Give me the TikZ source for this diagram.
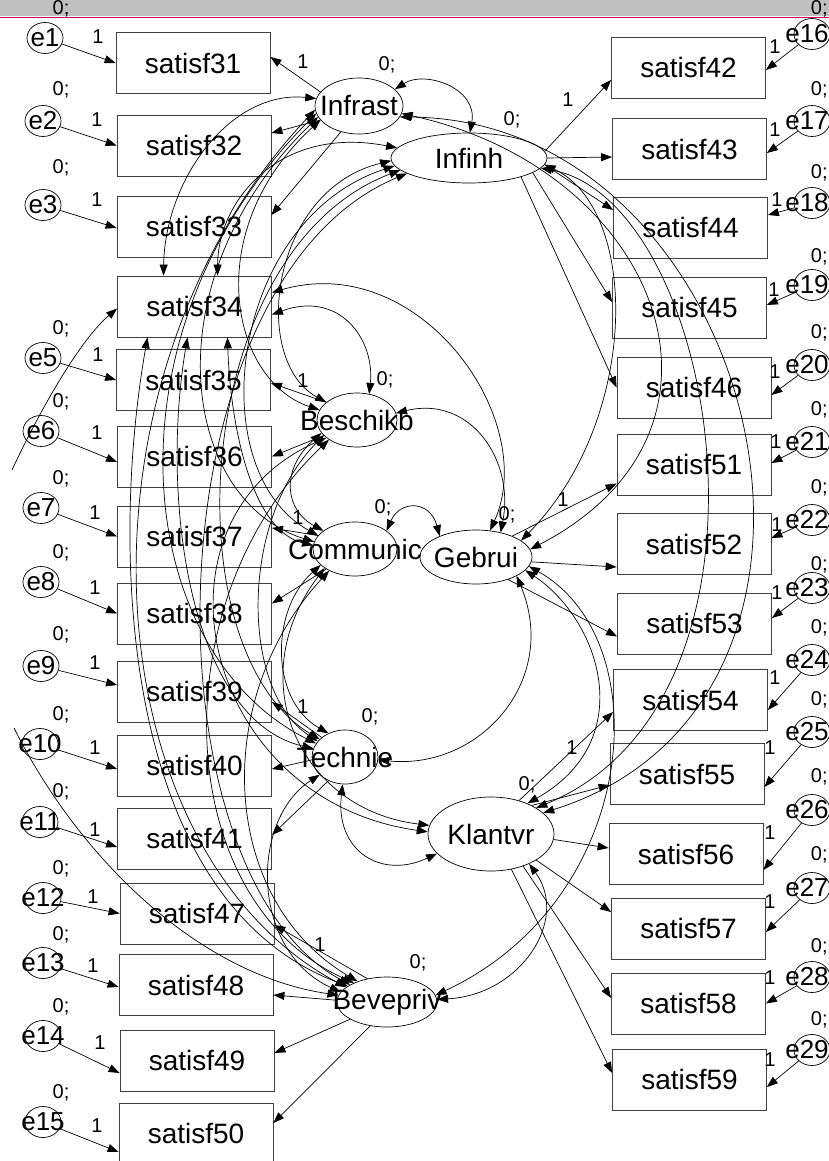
\documentclass[tikz,border=0pt]{standalone}
\usepackage{fontspec}
\setmainfont{Liberation Sans}
\usetikzlibrary{shapes.geometric,arrows.meta}
\newcommand\fbig{\fontsize{28}{30}\selectfont}
\newcommand\fsmall{\fontsize{20}{22}\selectfont}
\newcommand\ferr{\fontsize{26}{28}\selectfont}
\definecolor{bandline}{RGB}{200,0,100}
\definecolor{bandgrey}{RGB}{192,192,192}
\begin{document}
\begin{tikzpicture}[x=1pt,y=-1pt, line width=0.7pt,
  >={Triangle[length=11pt,width=8pt]},
  box/.style={draw=black!75, line width=0.8pt, minimum width=154pt, minimum height=61pt, inner sep=0pt, font=\fbig},
  lat/.style={ellipse, draw, line width=0.7pt, inner sep=0pt, label={[font=\fbig]center:#1}},
  err/.style={ellipse, draw, line width=0.7pt, minimum width=36pt, minimum height=31pt, inner sep=0pt, label={[font=\ferr]center:#1}},
  errR/.style={ellipse, draw, line width=0.7pt, minimum width=36pt, minimum height=31pt, inner sep=0pt, label={[font=\ferr,xshift=-5pt]center:#1}},
  lab/.style={font=\fsmall, inner sep=0pt},
  load/.style={->},
  cov/.style={<->}
]
\useasboundingbox (0,0) rectangle (829,1161);
\clip (0,0) rectangle (829,1161);
\fill[bandgrey] (0,0) rectangle (829,16);
\draw[bandline, line width=1.5pt] (0,17.5) -- (829,17.5);

% ---------- indicator boxes, left
\node[box] (s31) at (193,63) {satisf31};
\node[box] (s32) at (194,145.5) {satisf32};
\node[box] (s33) at (194,226.5) {satisf33};
\node[box] (s34) at (194.5,306.5) {satisf34};
\node[box] (s35) at (193.5,380) {satisf35};
\node[box] (s36) at (194.5,456.5) {satisf36};
\node[box] (s37) at (194.5,536.5) {satisf37};
\node[box] (s38) at (194.5,613.5) {satisf38};
\node[box] (s39) at (194.5,691.5) {satisf39};
\node[box] (s40) at (194.5,765.5) {satisf40};
\node[box] (s41) at (194.5,838.5) {satisf41};
\node[box] (s47) at (197,913.5) {satisf47};
\node[box] (s48) at (196,985) {satisf48};
\node[box] (s49) at (197,1060.5) {satisf49};
\node[box] (s50) at (196,1133.5) {satisf50};
% ---------- indicator boxes, right
\node[box] (s42) at (688.5,67.5) {satisf42};
\node[box] (s43) at (689.5,149) {satisf43};
\node[box] (s44) at (690.5,227.5) {satisf44};
\node[box] (s45) at (689.5,307.5) {satisf45};
\node[box] (s46) at (694,387.5) {satisf46};
\node[box] (s51) at (694,464.5) {satisf51};
\node[box] (s52) at (694,544) {satisf52};
\node[box] (s53) at (694.5,623.5) {satisf53};
\node[box] (s54) at (690.5,700) {satisf54};
\node[box] (s55) at (687,774) {satisf55};
\node[box] (s56) at (686,854) {satisf56};
\node[box] (s57) at (688.5,928.5) {satisf57};
\node[box] (s58) at (688.5,1003.5) {satisf58};
\node[box] (s59) at (689.5,1079.5) {satisf59};

% ---------- latent variables
\node[lat=Infrast, minimum width=88pt, minimum height=56pt] (IS) at (359,106) {};
\node[lat=Infinh, minimum width=156pt, minimum height=50pt] (IH) at (469,158) {};
\node[lat=Beschikb, minimum width=80pt, minimum height=54pt] (BE) at (357,420) {};
\node[lat=Communic, minimum width=84pt, minimum height=54pt] (CO) at (355,549) {};
\node[lat=Gebrui, minimum width=112pt, minimum height=54pt] (GE) at (476,557) {};
\node[lat=Technie, minimum width=66pt, minimum height=54pt] (TE) at (345,757) {};
\node[lat=Klantvr, minimum width=126pt, minimum height=74pt] (KL) at (491,834) {};
\node[lat=Bevepriv, minimum width=100pt, minimum height=50pt] (BV) at (387,1002) {};

% ---------- latent labels
\node[lab] (vIS) at (387,65) {0;};
\node[lab] (vIH) at (512,120) {0;};
\node[lab] (vBE) at (385,380) {0;};
\node[lab] (vCO) at (383,508) {0;};
\node[lab] (vGE) at (507,515) {0;};
\node[lab] (vTE) at (370,717) {0;};
\node[lab] (vKL) at (527,785) {0;};
\node[lab] (vBV) at (418,963) {0;};
\node[lab] (wIS) at (303,62) {1};
\node[lab] (wIH) at (568,100) {1};
\node[lab] (wBE) at (303,381) {1};
\node[lab] (wCO) at (298,518) {1};
\node[lab] (wGE) at (563,500) {1};
\node[lab] (wTE) at (303,707) {1};
\node[lab] (wKL) at (572,748) {1};
\node[lab] (wBV) at (320,945) {1};

% ---------- loadings
\draw[load] (IS.160) -- ([yshift=6pt]s31.east);
\draw[load] (IS.200) -- ([yshift=12.5pt]s32.east);
\draw[load] (IS.235) -- ([yshift=11.5pt]s33.east);
\draw[load] (IH.5) -- ([yshift=-12.5pt]s42.west);
\draw[load] (IH.0) -- ([yshift=-8pt]s43.west);
\draw[load] (IH.-5) -- ([yshift=17.5pt]s44.west);
\draw[load] (IH.-13) -- ([yshift=5.5pt]s45.west);
\draw[load] (IH.-20) -- (s46.west);
\draw[load] (BE.150) -- ([yshift=-3pt]s35.east);
\draw[load] (BE.205) -- (s36.east);
\draw[load] (CO.160) -- ([yshift=8.5pt]s37.east);
\draw[load] (CO.215) -- ([yshift=10pt]s38.east);
\draw[load] (TE.140) -- ([yshift=-10.5pt]s39.east);
\draw[load] (TE.185) -- ([yshift=-3.5pt]s40.east);
\draw[load] (TE.235) -- ([yshift=3.5pt]s41.east);
\draw[load] (GE.30) -- ([yshift=-19pt]s51.west);
\draw[load] (GE.-5) -- ([yshift=-23pt]s52.west);
\draw[load] (GE.-35) -- ([yshift=-13pt]s53.west);
\draw[load] (KL.50) -- ([yshift=-12pt]s54.west);
\draw[load] (KL.35) -- ([yshift=-11pt]s55.west);
\draw[load] (KL.-5) -- ([yshift=6pt]s56.west);
\draw[load] (KL.-30) -- ([yshift=16.5pt]s57.west);
\draw[load] (KL.-45) -- ([yshift=5.5pt]s58.west);
\draw[load] (KL.-60) -- ([yshift=6.5pt]s59.west);
\draw[load] (BV.130) -- ([yshift=-11.5pt]s47.east);
\draw[load] (BV.178) -- ([yshift=-10pt]s48.east);
\draw[load] (BV.205) -- ([yshift=7.5pt]s49.east);
\draw[load] (BV.235) -- ([yshift=10.5pt]s50.east);

% ---------- left error terms
\foreach \n/\ex/\ey/\bx/\sh/\ox/\oy/\zy in {
 1/45/38/s31/0/98/37/9,
 2/43/121/s32/0/97/120/90,
 3/43/205/s33/-1.5/97/200/168,
 5/43/358/s35/0/98/355/329,
 6/41/431/s36/-5.5/97/433/402,
 7/41/508/s37/0/95/513/479,
 8/41/582/s38/0/95/588/553,
 9/41/666/s39/6.5/95/663/635,
 10/40/744/s40/-3.5/95/748/715,
 11/40/822/s41/-8.5/95/830/792,
 12/43/898/s47/0/93/897/869,
 13/43/963/s48/-2/93/966/935,
 14/43/1036/s49/-12.5/100/1043/1007,
 15/43/1122/s50/-18.5/97/1126/1093}
{
 \node[err=e\n] (e\n) at (\ex,\ey) {};
 \draw[load] (e\n) -- ([yshift=\sh pt]\bx.west);
 \node[lab] (one\n) at (\ox,\oy) {1};
 \node[lab] (zero\n) at (61,\zy) {0;};
}

% ---------- right error terms
\foreach \n/\ey/\bx/\sh/\ox/\oy/\zy in {
 16/34/s42/-2.5/775/47/9,
 17/121/s43/-4/775/130/90,
 18/203/s44/12.5/777/200/173,
 19/285/s45/2.5/774/290/257,
 20/365/s46/-7.5/775/372/333,
 21/442/s51/1.5/776/442/410,
 22/520/s52/6/777/525/488,
 23/588/s53/5.5/777/593/565,
 24/660/s54/-10/775/678/628,
 25/732/s55/-13/770/748/700,
 26/810/s56/-16/770/833/777,
 27/888/s57/-3.5/770/902/855,
 28/977/s58/0/770/978/947,
 29/1050/s59/-7.5/770/1060/1020}
{
 \node[errR=e\n] (e\n) at (812,\ey) {};
 \draw[load] (e\n) -- ([yshift=\sh pt]\bx.east);
 \node[lab] (one\n) at (\ox,\oy) {1};
 \node[lab, anchor=east] (zero\n) at (828,\zy) {0;};
}

% ---------- covariances: top and right
\draw[cov] (IS.25) .. controls (425,70) and (478,88) .. (IH.88);
\draw[cov] (IS.-10) .. controls (660,170) and (760,430) .. (GE.8);
\draw[cov] (IH.-5) .. controls (640,210) and (640,420) .. (GE.20);
\draw[cov] (IS.-15) .. controls (760,120) and (900,700) .. (KL.22);
\draw[cov] (IH.-8) .. controls (720,200) and (800,700) .. (KL.30);
\draw[cov] (GE.-15) .. controls (600,620) and (640,740) .. (KL.40);
\draw[cov] (GE.-10) .. controls (660,640) and (640,900) .. (BV.8);
\draw[cov] (KL.-38) .. controls (570,920) and (520,995) .. (BV.3);
\draw[cov] (TE.-5) .. controls (480,770) and (560,680) .. (GE.-25);
\draw[cov] (CO.30) .. controls (400,500) and (430,500) .. (GE.150);
\draw[cov] (TE.-95) .. controls (335,850) and (380,880) .. (KL.200);
\draw[cov] (BE.10) .. controls (470,395) and (515,460) .. (GE.45);
\draw[cov] ([yshift=14pt]s34.east) .. controls (420,250) and (540,420) .. (GE.62);
\draw[cov] ([yshift=-8pt]s34.east) .. controls (340,290) and (375,340) .. (BE.65);
\draw[cov] (IS.170) .. controls (230,90) and (165,180) .. ([xshift=-31pt]s34.north);
\draw[cov] (IH.172) .. controls (280,125) and (218,200) .. ([xshift=23pt]s34.north);

% ---------- covariances: left bundles
\draw[cov] (IS.200) .. controls (200,230) and (230,380) .. (BE.165);
\draw[cov] (IS.195) .. controls (150,280) and (180,500) .. (CO.170);
\draw[cov] (IS.190) .. controls (100,330) and (130,650) .. (TE.155);
\draw[cov] (IS.185) .. controls (60,380) and (90,850) .. (BV.160);
\draw[cov] (IH.182) .. controls (270,190) and (250,360) .. (BE.150);
\draw[cov] (IH.186) .. controls (230,220) and (200,470) .. (CO.160);
\draw[cov] (IH.190) .. controls (190,250) and (170,650) .. (TE.145);
\draw[cov] (IH.194) .. controls (150,280) and (140,870) .. (BV.155);
\draw[cov] (BE.200) .. controls (280,470) and (285,510) .. (CO.150);
\draw[cov] (BE.205) .. controls (240,520) and (240,690) .. (TE.150);
\draw[cov] (BE.210) .. controls (140,520) and (200,800) .. (KL.178);
\draw[cov] (BE.215) .. controls (160,600) and (170,900) .. (BV.150);
\draw[cov] (CO.205) .. controls (270,610) and (270,700) .. (TE.125);
\draw[cov] (CO.212) .. controls (240,680) and (300,810) .. (KL.172);
\draw[cov] (CO.220) .. controls (210,700) and (220,900) .. (BV.145);
\draw[cov] (TE.215) .. controls (250,820) and (250,950) .. (BV.168);
\draw[cov] ([xshift=-47pt]s34.south) .. controls (110,550) and (120,900) .. (BV.158);
\draw[cov] ([xshift=-7pt]s34.south) .. controls (160,500) and (190,720) .. (TE.165);
\draw[cov] ([xshift=33pt]s34.south) .. controls (230,420) and (250,530) .. (CO.175);
\coordinate (offA) at (12,470);
\coordinate (offB) at (14,728);
\draw[->] (offA) .. controls (40,410) and (80,340) .. ([yshift=-2pt]s34.west);
\draw[->] (offB) .. controls (80,860) and (200,975) .. (BV.172);
\end{tikzpicture}
\end{document}
